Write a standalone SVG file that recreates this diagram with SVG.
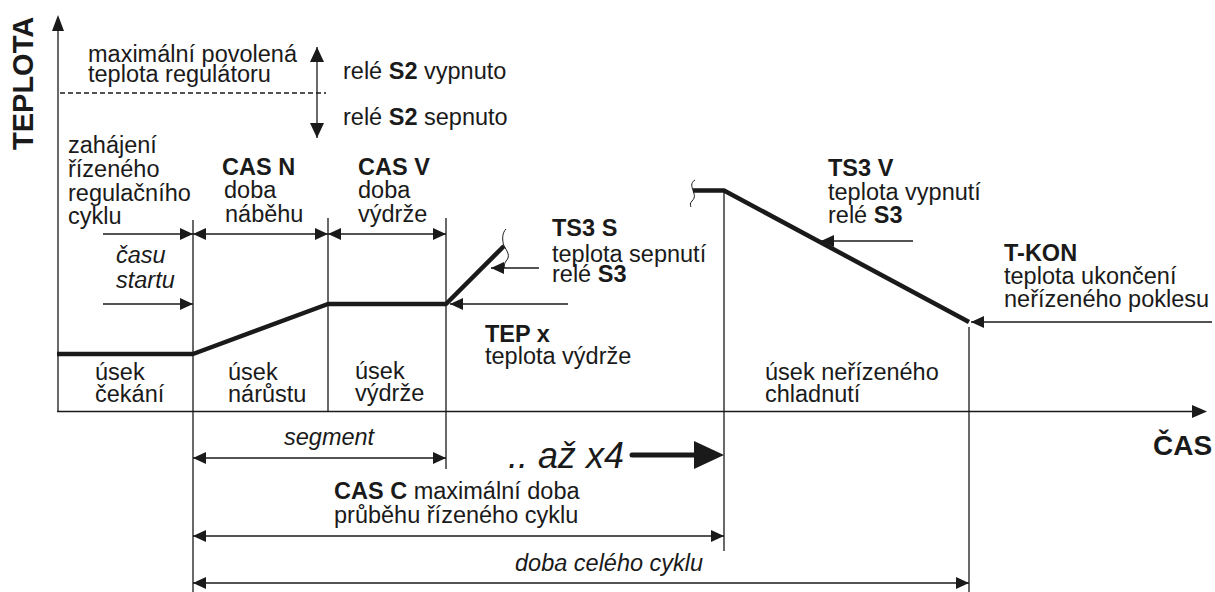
<svg xmlns="http://www.w3.org/2000/svg" width="1215" height="592" viewBox="0 0 1215 592">
<style>
text{font-family:"Liberation Sans",Arial,sans-serif;font-size:23.5px;fill:#1a1a1a}
.b{font-weight:bold}
.i{font-style:italic}
.ln{stroke:#1a1a1a;stroke-width:1.3;fill:none}
.arr{stroke:#1a1a1a;stroke-width:1.3;fill:none;marker-end:url(#ah)}
.dbl{stroke:#1a1a1a;stroke-width:1.3;fill:none;marker-start:url(#ah);marker-end:url(#ah)}
.prof{stroke:#1a1a1a;stroke-width:4.5;fill:none;stroke-linejoin:round}
.brk{stroke:#1a1a1a;stroke-width:1;fill:none}
</style>
<defs>
<marker id="ah" markerUnits="userSpaceOnUse" markerWidth="14" markerHeight="12" refX="13" refY="6" orient="auto-start-reverse">
<path d="M0,0 L13,6 L0,12 z" fill="#1a1a1a"/>
</marker>
<marker id="ahv" markerUnits="userSpaceOnUse" markerWidth="15" markerHeight="14" refX="15" refY="7" orient="auto-start-reverse">
<path d="M0,0 L15,7 L0,14 z" fill="#1a1a1a"/>
</marker>
</defs>
<rect width="1215" height="592" fill="#fff"/>

<g id="connectors">
<line class="ln" x1="58" y1="411.5" x2="58" y2="30" />
<path d="M52,31 L58,15 L64,31 z" fill="#1a1a1a"/>
<line class="ln" x1="57" y1="411.5" x2="1193" y2="411.5"/>
<path d="M1192,405 L1207,411.5 L1192,418 z" fill="#1a1a1a"/>
<line class="ln" x1="60" y1="93" x2="326" y2="93" stroke-dasharray="5,3" stroke-width="1"/>
<line x1="317" y1="47" x2="317" y2="138" stroke="#1a1a1a" stroke-width="1.3" marker-start="url(#ahv)" marker-end="url(#ahv)"/>
<line class="ln" x1="193" y1="220" x2="193" y2="592"/>
<line class="ln" x1="328" y1="218" x2="328" y2="412"/>
<line class="ln" x1="446" y1="218" x2="446" y2="469"/>
<line class="ln" x1="724" y1="190" x2="724" y2="551"/>
<line class="ln" x1="969" y1="327" x2="969" y2="592"/>
<line class="arr" x1="103" y1="234" x2="193" y2="234"/>
<line class="dbl" x1="193" y1="234" x2="328" y2="234"/>
<line class="dbl" x1="328" y1="234" x2="446" y2="234"/>
<line class="arr" x1="103" y1="304" x2="193" y2="304"/>
<line class="arr" x1="539" y1="268" x2="491" y2="268"/>
<line class="arr" x1="568" y1="304" x2="450" y2="304"/>
<line class="arr" x1="913" y1="241" x2="821" y2="241"/>
<line class="arr" x1="1212" y1="322" x2="971" y2="322"/>
<line class="dbl" x1="193" y1="458" x2="446" y2="458"/>
<line class="dbl" x1="193" y1="536" x2="724" y2="536"/>
<line class="dbl" x1="193" y1="583" x2="969" y2="583"/>
<line x1="632" y1="455" x2="697" y2="455" stroke="#1a1a1a" stroke-width="5" stroke-linecap="round"/>
<path d="M694,441 L724,455 L694,469 z" fill="#1a1a1a"/>
<polyline class="prof" points="57,354 193,354 328,304 446,304 504,246"/>
<polyline class="prof" points="693,190.5 724,190.5 969,322"/>
<path class="brk" d="M506,229 C502,233 502,240 504,246 C507,251 511,256 506,261 C504,264 504,266 505,268"/>
<path class="brk" d="M695,180 C690,183 692,187 693,190.5 C694,194 696,197 692,201 C690,203 690,205 691,207"/>
</g>

<g id="teplota-label"><text class="b" font-size="29" style="font-size:29px" transform="translate(33,150) rotate(-90)">TEPLOTA</text></g>
<g id="cas-label"><text class="b" style="font-size:28px" x="1153" y="455">ČAS</text></g>
<g id="max-teplota"><text x="88" y="62">maximální povolená</text><text x="88" y="82">teplota regulátoru</text></g>
<g id="rele-s2"><text x="343" y="79">relé <tspan class="b">S2</tspan> vypnuto</text><text x="343" y="125">relé <tspan class="b">S2</tspan> sepnuto</text></g>
<g id="zahajeni"><text x="68" y="153">zahájení</text><text x="68" y="177">řízeného</text><text x="68" y="201">regulačního</text><text x="68" y="224">cyklu</text></g>
<g id="cas-n"><text class="b" x="222" y="175">CAS N</text><text x="224" y="198">doba</text><text x="225" y="222">náběhu</text></g>
<g id="cas-v"><text class="b" x="358" y="175">CAS V</text><text x="358" y="198">doba</text><text x="358" y="222">výdrže</text></g>
<g id="casu-startu"><text class="i" x="116" y="263">času</text><text class="i" x="116" y="288">startu</text></g>
<g id="ts3-s"><text class="b" x="552" y="236">TS3 S</text><text x="552" y="262">teplota sepnutí</text><text x="552" y="282">relé <tspan class="b">S3</tspan></text></g>
<g id="tep-x"><text class="b" x="485" y="342">TEP x</text><text x="485" y="364">teplota výdrže</text></g>
<g id="ts3-v"><text class="b" x="828" y="175.5">TS3 V</text><text x="828" y="199.5">teplota vypnutí</text><text x="828" y="223">relé <tspan class="b">S3</tspan></text></g>
<g id="t-kon"><text class="b" x="1004" y="261">T-KON</text><text x="1004" y="284">teplota ukončení</text><text x="1004" y="307">neřízeného poklesu</text></g>
<g id="usek-cekani"><text x="95" y="380">úsek</text><text x="95" y="402">čekání</text></g>
<g id="usek-narustu"><text x="228" y="380">úsek</text><text x="228" y="402">nárůstu</text></g>
<g id="usek-vydrze"><text x="355" y="379">úsek</text><text x="355" y="401">výdrže</text></g>
<g id="usek-chladnuti"><text x="765" y="380">úsek neřízeného</text><text x="765" y="402">chladnutí</text></g>
<g id="segment"><text class="i" x="284" y="445">segment</text></g>
<g id="az-x4"><text class="i" style="font-size:36px" x="508" y="468">.. až x4</text></g>
<g id="cas-c"><text x="334" y="499"><tspan class="b">CAS C</tspan> maximální doba</text><text x="334" y="523">průběhu řízeného cyklu</text></g>
<g id="doba-celeho"><text class="i" x="515" y="571">doba celého cyklu</text></g>
</svg>
